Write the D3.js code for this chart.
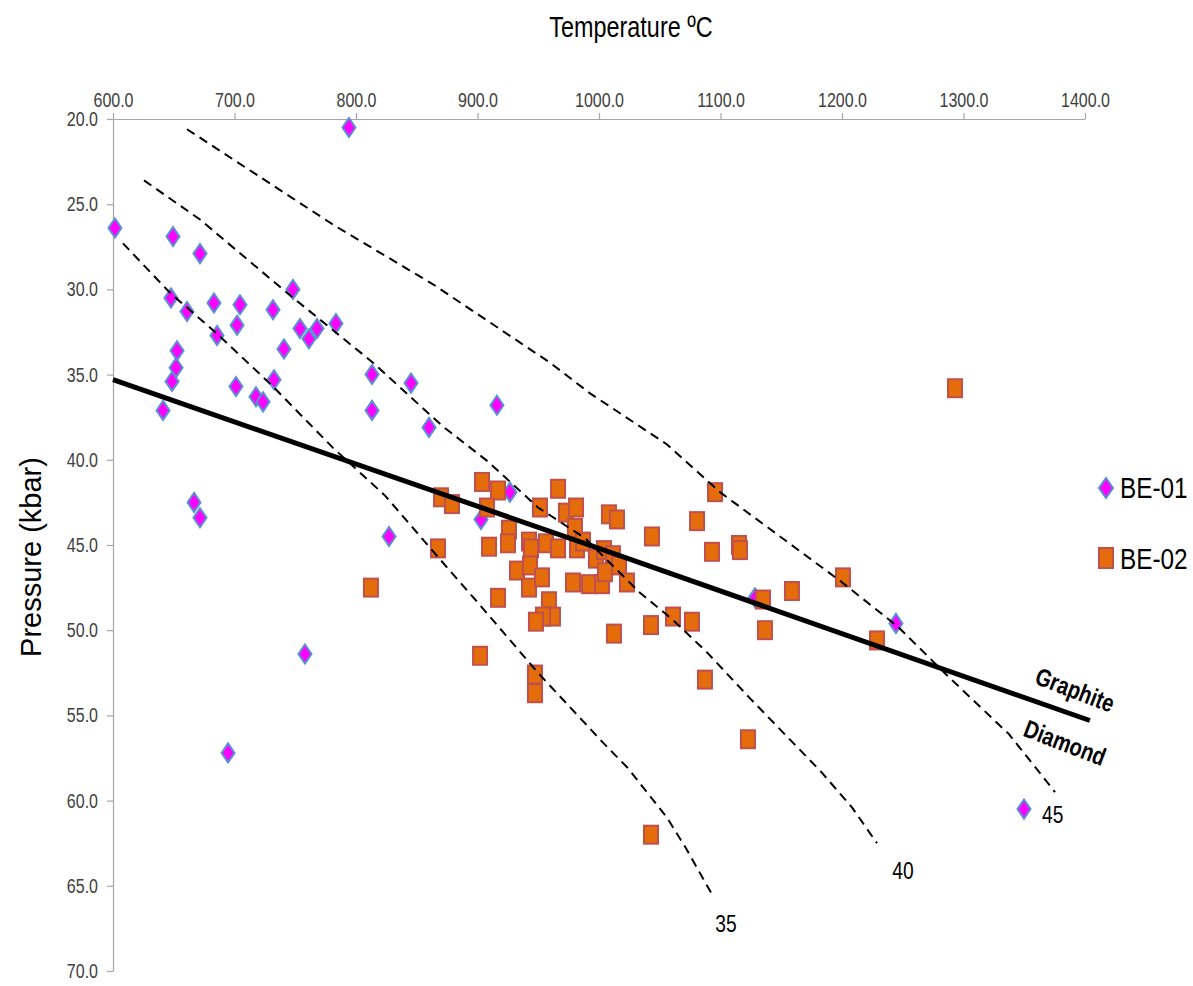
<!DOCTYPE html>
<html>
<head>
<meta charset="utf-8">
<script src="https://cdn.jsdelivr.net/npm/d3@7"></script>
<style>
  html, body { margin: 0; padding: 0; background: #ffffff; }
  svg { display: block; }
  .nar { transform-box: fill-box; transform-origin: center; transform: scaleX(0.8); }
  .narT { transform-box: fill-box; transform-origin: center; transform: scaleX(0.78); }
  .narL { transform-box: fill-box; transform-origin: left center; transform: scaleX(0.84); }
  .narR { transform-box: fill-box; transform-origin: right center; transform: scaleX(0.8); }
</style>
</head>
<body>
<svg id="chart" width="1193" height="986"></svg>
<script>
// ---------- DATA ----------
const xTicks = [600, 700, 800, 900, 1000, 1100, 1200, 1300, 1400];
const yTicks = [20, 25, 30, 35, 40, 45, 50, 55, 60, 65, 70];
const seriesNames = ["BE-01", "BE-02"];

// BE-01 : [Temperature °C, Pressure kbar]
const be01 = [
  [794.2, 20.5], [601.6, 26.4], [649.4, 26.9], [671.6, 27.9], [748.1, 30.0],
  [647.7, 30.5], [683.1, 30.8], [704.5, 30.9], [660.9, 31.3], [731.7, 31.2],
  [702.1, 32.1], [753.9, 32.3], [767.9, 32.3], [783.5, 32.0], [685.6, 32.7],
  [761.3, 32.9], [652.7, 33.6], [740.7, 33.5], [651.9, 34.6], [648.6, 35.4],
  [813.2, 35.0], [701.2, 35.7], [732.5, 35.3], [845.3, 35.5], [717.7, 36.3],
  [723.5, 36.6], [641.2, 37.1], [813.2, 37.1], [916.0, 36.8], [860.1, 38.1],
  [666.7, 42.5], [671.6, 43.4], [926.7, 41.9], [902.9, 43.5], [827.2, 44.5],
  [758.0, 51.4], [694.7, 57.2], [1128.4, 48.1], [1244.4, 49.6], [1349.8, 60.5]
];

// BE-02 : [Temperature °C, Pressure kbar]
const be02 = [
  [812.3, 47.5], [867.5, 45.2], [870.0, 42.2], [879.0, 42.6], [903.7, 41.3],
  [916.9, 41.8], [907.8, 42.8], [902.1, 51.5], [947.3, 52.6], [947.3, 53.7],
  [916.9, 48.1], [909.5, 45.1], [925.9, 44.1], [925.1, 44.9], [932.5, 46.5],
  [942.4, 44.8], [944.0, 45.2], [943.2, 46.2], [942.4, 47.5], [953.1, 46.9],
  [956.4, 44.9], [951.4, 42.8], [966.3, 41.7], [966.3, 45.2], [972.8, 43.1],
  [981.1, 42.8], [980.2, 44.0], [981.9, 45.2], [986.8, 44.8], [978.6, 47.2],
  [991.8, 47.3], [1002.5, 47.3], [958.8, 48.3], [962.1, 49.2], [953.9, 49.2],
  [948.1, 49.5], [997.5, 45.8], [1004.1, 45.3], [1011.5, 45.6], [1016.5, 46.2],
  [1004.9, 46.6], [1008.2, 43.2], [1014.8, 43.5], [1023.0, 47.2], [1012.3, 50.2],
  [1043.6, 44.5], [1042.8, 49.7], [1060.9, 49.2], [1076.5, 49.5], [1080.7, 43.6],
  [1095.5, 41.9], [1093.0, 45.4], [1115.2, 45.0], [1116.0, 45.3], [1087.2, 52.9],
  [1122.6, 56.4], [1042.8, 62.0], [1135.0, 48.2], [1136.6, 50.0], [1158.8, 47.7],
  [1200.8, 46.9], [1228.8, 50.6], [1293.0, 35.8]
];

// Graphite / Diamond boundary
const graphiteDiamond = [[600, 35.3], [1000, 45.2], [1404, 55.3]];

// Geotherms (dashed), labels 35 / 40 / 45
const geotherm35 = [
  [608.2, 27.3], [646.9, 30.2], [685.6, 32.6], [731.7, 35.7], [781.1, 39.3],
  [823.9, 42.1], [865.0, 45.5], [902.9, 48.6], [949.8, 52.5], [1003.3, 56.6],
  [1023.9, 58.1], [1056.0, 61.0], [1071.6, 62.8], [1092.2, 65.4]
];
const geotherm40 = [
  [625.5, 23.6], [671.6, 25.9], [743.2, 30.2], [814.0, 34.3], [870.8, 38.0],
  [908.6, 40.1], [949.8, 42.8], [988.5, 44.6], [1033.7, 47.8], [1060.9, 49.4],
  [1088.9, 51.3], [1124.3, 54.0], [1182.7, 58.3], [1208.2, 60.4], [1228.8, 62.5]
];
const geotherm45 = [
  [660.9, 20.6], [781.1, 26.2], [863.4, 29.7], [959.7, 34.3], [992.6, 36.1],
  [1056.0, 39.1], [1099.6, 41.9], [1198.4, 47.1], [1246.1, 49.8], [1287.2, 52.7],
  [1337.4, 56.1], [1375.3, 59.5]
];
const geothermLabels = ["35", "40", "45"];
const geothermLabelPos = [[1104.5, 67.2], [1250.2, 64.1], [1373.5, 60.8]];

// ---------- CHART ----------
const svg = d3.select("#chart");
const font = "'Liberation Sans', Arial, sans-serif";

const x = d3.scaleLinear().domain([600, 1400]).range([113, 1085]);
const y = d3.scaleLinear().domain([20, 70]).range([119, 971]);

// Axes
const xAxis = d3.axisTop(x).tickValues(xTicks).tickFormat(d3.format(".1f"))
  .tickSizeInner(6).tickSizeOuter(0).tickPadding(6);
const yAxis = d3.axisLeft(y).tickValues(yTicks).tickFormat(d3.format(".1f"))
  .tickSizeInner(6).tickSizeOuter(0).tickPadding(9);

const gx = svg.append("g").attr("transform", `translate(0,${y(20)})`).call(xAxis);
const gy = svg.append("g").attr("transform", `translate(${x(600)},0)`).call(yAxis);
[gx, gy].forEach(g => {
  g.select(".domain").attr("stroke", "#a6a6a6").attr("stroke-width", 1.2);
  g.selectAll(".tick line").attr("stroke", "#a6a6a6").attr("stroke-width", 1.2);
  g.selectAll(".tick text").attr("fill", "#404040")
    .style("font-family", font).style("font-size", "20px");
});
gx.selectAll(".tick text").attr("class", "nar");
gy.selectAll(".tick text").attr("class", "narR");

// Axis titles
svg.append("text").attr("class", "narT")
  .attr("x", 631).attr("y", 37)
  .attr("text-anchor", "middle")
  .style("font-family", font).style("font-size", "30px").attr("fill", "#000")
  .text("Temperature ºC");

svg.append("text")
  .attr("transform", `translate(41,${557}) rotate(-90)`)
  .attr("text-anchor", "middle")
  .style("font-family", font).style("font-size", "29px").attr("fill", "#000")
  .text("Pressure (kbar)");

// Markers
const diamondPath = "M0,-9.5L6.5,0L0,9.5L-6.5,0Z";
svg.append("g").selectAll("path").data(be01).join("path")
  .attr("d", diamondPath)
  .attr("transform", d => `translate(${x(d[0])},${y(d[1])})`)
  .attr("fill", "#ff00ff").attr("stroke", "#5b8fd0").attr("stroke-width", 2);

const sqW = 14, sqH = 18;
svg.append("g").selectAll("rect").data(be02).join("rect")
  .attr("x", d => x(d[0]) - sqW / 2).attr("y", d => y(d[1]) - sqH / 2)
  .attr("width", sqW).attr("height", sqH)
  .attr("fill", "#e46c0a").attr("stroke", "#c0504d").attr("stroke-width", 2);

// Lines
const line = d3.line().x(d => x(d[0])).y(d => y(d[1]));
[geotherm35, geotherm40, geotherm45].forEach(g => {
  svg.append("path").datum(g).attr("d", line)
    .attr("fill", "none").attr("stroke", "#000").attr("stroke-width", 2)
    .attr("stroke-dasharray", "9,6");
});
svg.append("path").datum(graphiteDiamond).attr("d", line)
  .attr("fill", "none").attr("stroke", "#000").attr("stroke-width", 5);

// Geotherm labels
svg.append("g").selectAll("text").data(geothermLabels).join("text").attr("class", "nar")
  .attr("x", (d, i) => x(geothermLabelPos[i][0]))
  .attr("y", (d, i) => y(geothermLabelPos[i][1]))
  .attr("text-anchor", "middle").attr("dy", "0.35em")
  .style("font-family", font).style("font-size", "24px").attr("fill", "#000")
  .text(d => d);

// Graphite / Diamond labels
svg.append("g").attr("transform", `translate(${x(1391.8)},${y(53.5)}) rotate(21)`)
  .append("text").attr("class", "nar")
  .attr("text-anchor", "middle").attr("dy", "0.35em")
  .style("font-family", font).style("font-weight", "bold").style("font-size", "25px")
  .text("Graphite");
svg.append("g").attr("transform", `translate(${x(1383.5)},${y(56.6)}) rotate(21)`)
  .append("text").attr("class", "nar")
  .attr("text-anchor", "middle").attr("dy", "0.35em")
  .style("font-family", font).style("font-weight", "bold").style("font-size", "25px")
  .text("Diamond");

// Legend
const legend = svg.append("g").attr("transform", "translate(1106,488)");
legend.append("path").attr("d", "M0,-10L7,0L0,10L-7,0Z")
  .attr("fill", "#ff00ff").attr("stroke", "#5b8fd0").attr("stroke-width", 2);
legend.append("rect").attr("x", -7).attr("y", 70 - 10).attr("width", 14).attr("height", 20)
  .attr("fill", "#e46c0a").attr("stroke", "#c0504d").attr("stroke-width", 2);
legend.selectAll("text.lg").data(seriesNames).join("text").attr("class", "narL")
  .attr("x", 14).attr("y", (d, i) => i * 71).attr("dy", "0.36em")
  .style("font-family", font).style("font-size", "29px").attr("fill", "#000")
  .text(d => d);
</script>
</body>
</html>
